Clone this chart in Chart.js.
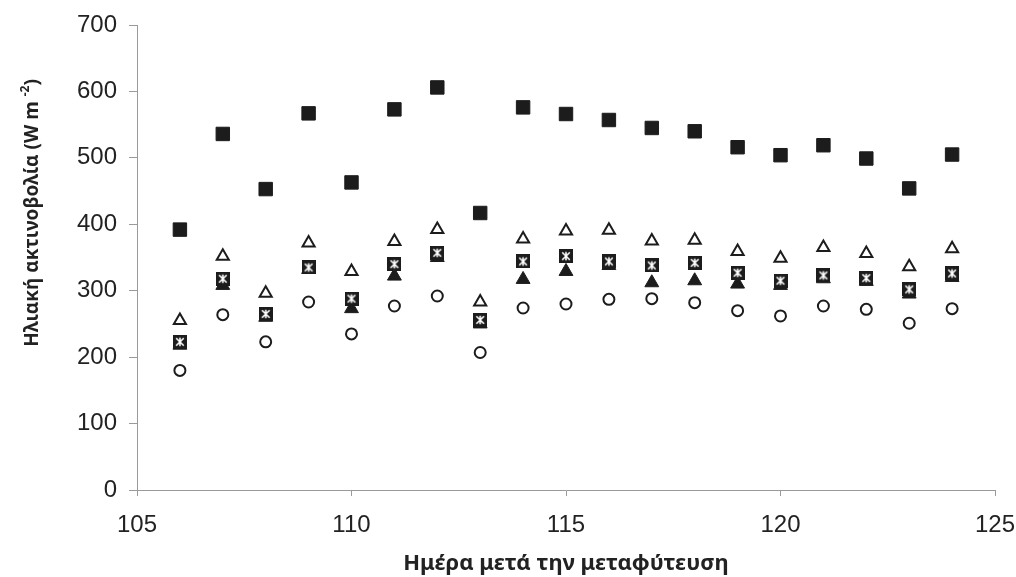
<!DOCTYPE html>
<html>
<head>
<meta charset="utf-8">
<script src="https://cdn.jsdelivr.net/npm/chart.js@4"></script>
<style>
html,body{margin:0;padding:0;background:#ffffff;}
#wrap{width:1016px;height:577px;}
</style>
</head>
<body>
<div id="wrap"><canvas id="c" width="1016" height="577"></canvas></div>
<script>
// ---- data ----
const days = [106,107,108,109,110,111,112,113,114,115,116,117,118,119,120,121,122,123,124];
const seriesFilledSquare = [392,536,453,567,463,573,606,417,576,566,557,545,540,516,504,519,499,454,505];
const seriesOpenTriangle = [255,352,296,372,329,374,392,283,378,390,391,375,376,359,349,365,356,336,363];
const seriesStarSquare   = [223,318,265,335,288,340,357,256,344,352,344,338,342,327,315,323,319,302,326];
const seriesFilledTriangle = [218,308,260,332,273,322,350,250,317,329,338,312,315,310,308,318,314,295,320];
const seriesOpenCircle   = [180,264,223,283,235,277,292,207,274,280,287,288,282,270,262,277,272,251,273];
const xTicks = [105,110,115,120,125];
const yTicks = [0,100,200,300,400,500,600,700];
const xTitle = 'Ημέρα μετά την μεταφύτευση';
const yTitleMain = 'Ηλιακή ακτινοβολία (W m ';
const yTitleSup = '-2';
const yTitleEnd = ')';

const INK = '#1c1c1c';
const FONT = '"Liberation Sans", Arial, Helvetica, sans-serif';
const TITLE_FONT = '"Noto Sans", "Liberation Sans", Arial, sans-serif';

function pts(vals){ return days.map((d,i)=>({x:d, y:vals[i]})); }

function makeStarSquare(){
  const s = 14;
  const c = document.createElement('canvas');
  c.width = s; c.height = s;
  const g = c.getContext('2d');
  g.fillStyle = INK;
  g.fillRect(0,0,s,s);
  g.strokeStyle = '#ffffff';
  g.lineWidth = 1.6;
  const m = s/2, a = 3.8;
  g.beginPath();
  g.moveTo(m, m-a-0.5); g.lineTo(m, m+a+0.5);
  g.moveTo(m-a, m-a); g.lineTo(m+a, m+a);
  g.moveTo(m+a, m-a); g.lineTo(m-a, m+a);
  g.stroke();
  return c;
}
const starSquare = makeStarSquare();

const yTitlePlugin = {
  id: 'yTitle',
  afterDraw(chart){
    const ctx = chart.ctx;
    ctx.save();
    ctx.translate(33, 213);
    ctx.rotate(-Math.PI/2);
    ctx.fillStyle = '#222222';
    ctx.textBaseline = 'middle';
    ctx.textAlign = 'left';
    const mainFont = 'bold 19px ' + TITLE_FONT;
    const supFont = 'bold 12px ' + TITLE_FONT;
    ctx.font = mainFont; const w1 = ctx.measureText(yTitleMain).width;
    const w3 = ctx.measureText(yTitleEnd).width;
    ctx.font = supFont; const w2 = ctx.measureText(yTitleSup).width;
    let x = -(w1 + w2 + w3)/2;
    ctx.font = mainFont; ctx.fillText(yTitleMain, x, 0); x += w1;
    ctx.font = supFont; ctx.fillText(yTitleSup, x, -7); x += w2;
    ctx.font = mainFont; ctx.fillText(yTitleEnd, x, 0);
    ctx.restore();
  }
};

new Chart(document.getElementById('c'), {
  type: 'scatter',
  data: {
    datasets: [
      { label:'A', data: pts(seriesFilledSquare), pointStyle:'rect', pointRadius:9.5, backgroundColor:INK, borderColor:INK, borderWidth:1 },
      { label:'C', data: pts(seriesStarSquare), pointStyle: starSquare, pointRadius:7 },
      { label:'D', data: pts(seriesFilledTriangle), pointStyle:'triangle', pointRadius:8, backgroundColor:INK, borderColor:INK, borderWidth:1 },
      { label:'B', data: pts(seriesOpenTriangle), pointStyle:'triangle', pointRadius:7, backgroundColor:'#ffffff', borderColor:INK, borderWidth:2 },
      { label:'E', data: pts(seriesOpenCircle), pointStyle:'circle', pointRadius:5.5, backgroundColor:'#ffffff', borderColor:INK, borderWidth:2 }
    ]
  },
  options: {
    responsive: false,
    animation: false,
    devicePixelRatio: 1,
    layout: { padding: { top: 25, right: 21, left: 0, bottom: 0 } },
    plugins: { legend: { display:false }, tooltip: { enabled:false } },
    scales: {
      x: {
        type: 'linear', min: 105, max: 125,
        afterBuildTicks(s){ s.ticks = xTicks.map(v=>({value:v})); },
        afterFit(s){ s.height = 87; s.paddingRight = 0; s.paddingLeft = 0; },
        grid: { drawOnChartArea:false, drawTicks:true, tickLength:6, color:'#9a9a9a', lineWidth:1 },
        border: { display:true, color:'#9a9a9a', width:1 },
        ticks: { color:'#222222', font:{ family:FONT, size:24 }, padding:15, maxRotation:0 },
        title: { display:true, text:xTitle, color:'#222222', font:{ family:TITLE_FONT, size:22, weight:'bold' }, padding:{ top:0, bottom:0 } }
      },
      y: {
        type: 'linear', min: 0, max: 700,
        afterBuildTicks(s){ s.ticks = yTicks.map(v=>({value:v})); },
        afterFit(s){ s.width = 137; s.paddingTop = 0; s.paddingBottom = 0; },
        grid: { drawOnChartArea:false, drawTicks:true, tickLength:8, color:'#9a9a9a', lineWidth:1 },
        border: { display:true, color:'#9a9a9a', width:1 },
        ticks: { color:'#222222', font:{ family:FONT, size:24 }, padding:12 }
      }
    }
  },
  plugins: [yTitlePlugin]
});
</script>
</body>
</html>
